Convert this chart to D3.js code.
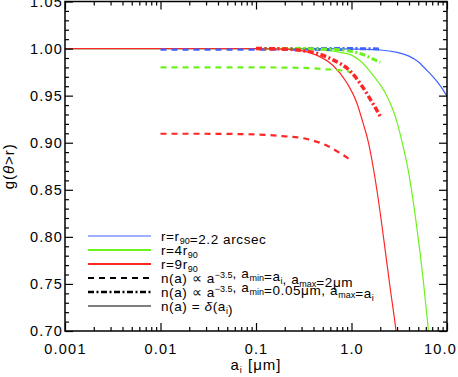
<!DOCTYPE html>
<html>
<head>
<meta charset="utf-8">
<script src="https://cdn.jsdelivr.net/npm/d3@7"></script>
<style>
  body { margin: 0; background: #fff; }
  text { font-family: "Liberation Sans", Arial, sans-serif; fill: #000; }
</style>
</head>
<body>
<svg id="chart" width="458" height="377"></svg>
<script>
// grain size a_i [um] vs g(theta>r)
// solid = single size n(a) = delta(a_i)
const blueSolid = [[0.001,1.0],[0.5,1.0],[1,0.9995],[2,0.9985],[3,0.996],[4,0.992],[5,0.986],[6,0.978],[7,0.971],[8,0.964],[9,0.957],[10,0.949]];
const greenSolid = [[0.001,1.0],[0.2,1.0],[0.4,0.999],[0.76,0.996],[1.0,0.993],[1.23,0.987],[1.7,0.971],[2.34,0.95],[2.85,0.929],[3.4,0.9],[4.0,0.866],[4.77,0.814],[5.64,0.754],[6.4,0.70]];
const redSolid = [[0.001,1.0],[0.1,1.0],[0.19,0.9995],[0.29,0.998],[0.43,0.993],[0.64,0.982],[0.89,0.964],[1.13,0.943],[1.33,0.92],[1.49,0.902],[1.85,0.849],[2.16,0.80],[2.5,0.751],[2.93,0.70],[3.1,0.68]];

// dashed = power law, amin=a_i, amax=2um
const blueDashed = [[0.01,0.9988],[0.1,0.9988],[0.5,0.9987],[1.0,0.9985]];
const greenDashed = [[0.01,0.980],[0.1,0.980],[0.3,0.9795],[0.55,0.978],[0.76,0.977],[1.0,0.975]];
const redDashed = [[0.01,0.9095],[0.03,0.9095],[0.1,0.9088],[0.19,0.907],[0.34,0.904],[0.55,0.897],[0.76,0.889],[1.0,0.881]];

// dash-dot = power law, amin=0.05um, amax=a_i
const blueDashDot = [[0.1,1.0],[0.5,1.0],[1.0,1.0],[2.0,0.9995]];
const greenDashDot = [[0.1,1.0],[0.3,1.0],[0.5,0.9995],[0.7,0.999],[1.0,0.997],[1.3,0.994],[1.6,0.99],[2.0,0.9855]];
const redDashDot = [[0.1,1.0],[0.2,0.9995],[0.3,0.998],[0.43,0.995],[0.64,0.988],[0.97,0.976],[1.33,0.958],[1.6,0.945],[2.0,0.928]];

const xMajor = [0.001, 0.01, 0.1, 1, 10];
const xMajorLabels = ['0.001', '0.01', '0.1', '1.0', '10.0'];
const yMajor = [0.70, 0.75, 0.80, 0.85, 0.90, 0.95, 1.00, 1.05];

const blue = '#3f63ff', green = '#6cf21c', red = '#ff2626';

const svg = d3.select('#chart');
const mLeft = 65, mRight = 447, mTop = 1.5, mBottom = 331;

const x = d3.scaleLog().domain([0.001, 10]).range([mLeft, mRight]);
const y = d3.scaleLinear().domain([0.70, 1.05]).range([mBottom, mTop]);

// minor ticks
let xMinor = [];
for (let e = -3; e < 1; e++) {
  for (let m = 2; m < 10; m++) xMinor.push(m * Math.pow(10, e));
}
let yMinor = d3.range(70, 106).map(v => v / 100).filter(v => Math.round(v * 100) % 5 !== 0);

svg.append('clipPath').attr('id', 'plotClip')
  .append('rect').attr('x', mLeft).attr('y', mTop).attr('width', mRight - mLeft).attr('height', mBottom - mTop);

const line = d3.line()
  .x(d => x(d[0]))
  .y(d => y(d[1]))
  .curve(d3.curveMonotoneX);

const plot = svg.append('g').attr('clip-path', 'url(#plotClip)');

function drawSeries(data, color, width, dash) {
  plot.append('path')
    .datum(data)
    .attr('fill', 'none')
    .attr('stroke', color)
    .attr('stroke-width', width)
    .attr('stroke-dasharray', dash)
    .attr('d', line);
}

drawSeries(blueSolid, blue, 1.2, null);
drawSeries(greenSolid, green, 1.2, null);
drawSeries(redSolid, red, 1.2, null);
drawSeries(blueDashed, blue, 2.2, '6,5');
drawSeries(greenDashed, green, 2.2, '6,5');
drawSeries(redDashed, red, 2.2, '6,5');
drawSeries(blueDashDot, blue, 3, '6,2.5,2,2.5');
drawSeries(greenDashDot, green, 3, '6,2.5,2,2.5');
drawSeries(redDashDot, red, 3.5, '6,2.5,2,2.5');

// axes, ticks pointing in on all four sides
function styleAxis(g) {
  g.select('.domain').remove();
  g.selectAll('line').attr('stroke', '#000').attr('stroke-width', 1.2);
  g.selectAll('text')
    .style('font-family', '"Liberation Sans", Arial, sans-serif')
    .style('font-size', '14.5px')
    .style('letter-spacing', '1.2px')
    .attr('fill', '#000');
}

svg.append('g').attr('transform', `translate(0,${mBottom})`)
  .call(d3.axisBottom(x).tickValues(xMajor).tickFormat((d, i) => xMajorLabels[i]).tickSize(-8).tickPadding(13))
  .call(styleAxis)
  .selectAll('text').filter(d => d === 10).attr('dx', -7);   // keep 10.0 inside the page
svg.append('g').attr('transform', `translate(0,${mBottom})`)
  .call(d3.axisBottom(x).tickValues(xMinor).tickFormat('').tickSize(-4))
  .call(styleAxis);
svg.append('g').attr('transform', `translate(0,${mTop})`)
  .call(d3.axisTop(x).tickValues(xMajor).tickFormat('').tickSize(-8))
  .call(styleAxis);
svg.append('g').attr('transform', `translate(0,${mTop})`)
  .call(d3.axisTop(x).tickValues(xMinor).tickFormat('').tickSize(-4))
  .call(styleAxis);

svg.append('g').attr('transform', `translate(${mLeft},0)`)
  .call(d3.axisLeft(y).tickValues(yMajor).tickFormat(d3.format('.2f')).tickSize(-8).tickPadding(2))
  .call(styleAxis);
svg.append('g').attr('transform', `translate(${mLeft},0)`)
  .call(d3.axisLeft(y).tickValues(yMinor).tickFormat('').tickSize(-4))
  .call(styleAxis);
svg.append('g').attr('transform', `translate(${mRight},0)`)
  .call(d3.axisRight(y).tickValues(yMajor).tickFormat('').tickSize(-8))
  .call(styleAxis);
svg.append('g').attr('transform', `translate(${mRight},0)`)
  .call(d3.axisRight(y).tickValues(yMinor).tickFormat('').tickSize(-4))
  .call(styleAxis);

// frame
svg.append('rect')
  .attr('x', mLeft).attr('y', mTop)
  .attr('width', mRight - mLeft).attr('height', mBottom - mTop)
  .attr('fill', 'none').attr('stroke', '#000').attr('stroke-width', 1.5);

// axis titles
const xTitle = svg.append('text')
  .attr('x', (mLeft + mRight) / 2).attr('y', 370)
  .attr('text-anchor', 'middle')
  .style('font-size', '15px').style('letter-spacing', '1px');
xTitle.append('tspan').text('a');
xTitle.append('tspan').attr('dy', 3).style('font-size', '9px').text('i');
xTitle.append('tspan').attr('dy', -3).text(' [μm]');

const yTitle = svg.append('text')
  .attr('transform', `translate(14,${(mTop + mBottom) / 2}) rotate(-90)`)
  .attr('text-anchor', 'middle')
  .style('font-size', '15px').style('letter-spacing', '1px');
yTitle.append('tspan').text('g(');
yTitle.append('tspan').style('font-style', 'italic').text('θ');
yTitle.append('tspan').text('>r)');

// legend
const legendY = [236, 250, 264, 278, 292, 306];
const legendItems = [
  {color: blue, width: 1.2, dash: null},
  {color: green, width: 2, dash: null},
  {color: red, width: 2, dash: null},
  {color: '#000', width: 2.2, dash: '6,5'},
  {color: '#000', width: 2.6, dash: '6,2.5,2,2.5'},
  {color: '#000', width: 1.2, dash: null}
];
legendItems.forEach(function(it, i) {
  svg.append('line')
    .attr('x1', 88).attr('x2', 151)
    .attr('y1', legendY[i]).attr('y2', legendY[i])
    .attr('stroke', it.color).attr('stroke-width', it.width)
    .attr('stroke-dasharray', it.dash);
});

function legendText(i) {
  return svg.append('text')
    .attr('x', 161).attr('y', legendY[i] + 5)
    .style('font-size', '13.5px').style('letter-spacing', '0.6px');
}
function sub(t, s) {
  t.append('tspan').attr('dy', 3).style('font-size', '9px').style('letter-spacing', '0px').text(s);
  t.append('tspan').attr('dy', -3).text('');
}
function sup(t, s) {
  t.append('tspan').attr('dy', -5).style('font-size', '9px').style('letter-spacing', '0px').text(s);
  t.append('tspan').attr('dy', 5).text('');
}

let t = legendText(0);
t.append('tspan').text('r=r');
sub(t, '90');
t.append('tspan').text('=2.2 arcsec');

t = legendText(1);
t.append('tspan').text('r=4r');
sub(t, '90');

t = legendText(2);
t.append('tspan').text('r=9r');
sub(t, '90');

t = legendText(3);
t.append('tspan').text('n(a) ∝ a');
sup(t, '−3.5');
t.append('tspan').text(', a');
sub(t, 'min');
t.append('tspan').text('=a');
sub(t, 'i');
t.append('tspan').text(', a');
sub(t, 'max');
t.append('tspan').text('=2μm');

t = legendText(4);
t.append('tspan').text('n(a) ∝ a');
sup(t, '−3.5');
t.append('tspan').text(', a');
sub(t, 'min');
t.append('tspan').text('=0.05μm, a');
sub(t, 'max');
t.append('tspan').text('=a');
sub(t, 'i');

t = legendText(5);
t.append('tspan').text('n(a) = ');
t.append('tspan').style('font-style', 'italic').text('δ');
t.append('tspan').text('(a');
sub(t, 'i');
t.append('tspan').text(')');
</script>
</body>
</html>
